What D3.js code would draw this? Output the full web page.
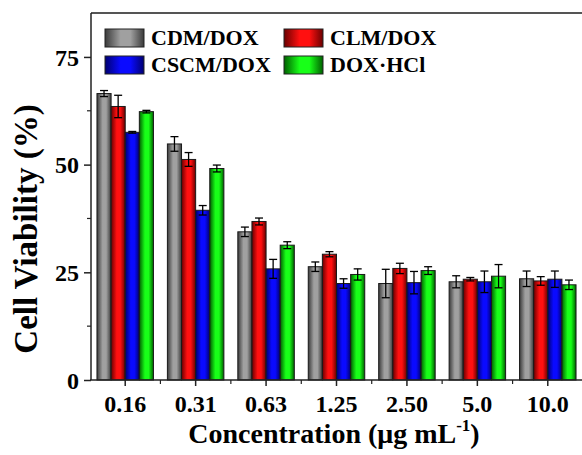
<!DOCTYPE html>
<meta charset="utf-8">
<style>
  body { margin: 0; background: #fff; }
</style>
<script src="https://d3js.org/d3.v7.min.js"></script>
<div id="chart"></div>
<script>
// concentrations (ug/mL)
const categories = ["0.16", "0.31", "0.63", "1.25", "2.50", "5.0", "10.0"];
const seriesNames = ["CDM/DOX", "CLM/DOX", "CSCM/DOX", "DOX·HCl"];

// cell viability (%) and error
const cdm = [66.5, 54.8, 34.4, 26.3, 22.4, 22.8, 23.5];
const cdmErr = [0.7, 1.7, 1.1, 1.1, 3.3, 1.4, 1.8];
const clm = [63.5, 51.2, 36.8, 29.2, 25.9, 23.4, 23.0];
const clmErr = [2.6, 1.6, 0.8, 0.6, 1.2, 0.4, 1.0];
const cscm = [57.5, 39.4, 25.8, 22.4, 22.6, 22.8, 23.4];
const cscmErr = [0.2, 1.1, 2.2, 1.1, 2.6, 2.5, 1.9];
const dox = [62.3, 49.1, 31.3, 24.5, 25.4, 24.1, 22.1];
const doxErr = [0.3, 0.8, 0.8, 1.3, 0.9, 2.7, 1.1];

const yTicks = [0, 25, 50, 75];
const yMinor = [12.5, 37.5, 62.5];

const values = [cdm, clm, cscm, dox];
const errors = [cdmErr, clmErr, cscmErr, doxErr];
const colors = [
  {dark: "#3a3a3a", light: "#a0a0a0", id: "gGray"},
  {dark: "#6a0000", light: "#ff1010", id: "gRed"},
  {dark: "#000070", light: "#0a0aff", id: "gBlue"},
  {dark: "#006000", light: "#18ff18", id: "gGreen"}
];

const FONT = "'Liberation Serif', 'Times New Roman', serif";
const W = 582, H = 455;
const plotLeft = 90, plotRight = 583, plotTop = 13, plotBottom = 380;

const svg = d3.select("#chart").append("svg")
    .attr("width", W).attr("height", H);

svg.append("rect").attr("width", W).attr("height", H).attr("fill", "#fff");

// gradients for the shaded bars
const defs = svg.append("defs");
colors.forEach(c => {
  const g = defs.append("linearGradient").attr("id", c.id)
      .attr("x1", "0%").attr("x2", "100%").attr("y1", "0%").attr("y2", "0%");
  g.append("stop").attr("offset", "0%").attr("stop-color", c.dark);
  g.append("stop").attr("offset", "40%").attr("stop-color", c.light);
  g.append("stop").attr("offset", "65%").attr("stop-color", c.light);
  g.append("stop").attr("offset", "100%").attr("stop-color", c.dark);
});

const x = d3.scaleBand().domain(categories).range([plotLeft, plotRight]).padding(0);
const inner = d3.scaleBand().domain(d3.range(4))
    .range([x.bandwidth() * 0.099, x.bandwidth() * 0.901]).padding(0);
const y = d3.scaleLinear().domain([0, 85.2]).range([plotBottom, plotTop]);

// top frame line
svg.append("line").attr("x1", plotLeft + 1).attr("x2", W).attr("y1", plotTop).attr("y2", plotTop)
    .attr("stroke", "#555").attr("stroke-width", 2);

// bars
const groups = svg.selectAll("g.grp").data(categories).enter().append("g")
    .attr("class", "grp")
    .attr("transform", d => "translate(" + x(d) + ",0)");

groups.each(function (cat, i) {
  const g = d3.select(this);
  for (let s = 0; s < 4; s++) {
    const v = values[s][i];
    const e = errors[s][i];
    const bx = inner(s);
    const bw = inner.bandwidth();
    g.append("rect")
        .attr("x", bx).attr("y", y(v))
        .attr("width", bw).attr("height", y(0) - y(v))
        .attr("fill", "url(#" + colors[s].id + ")")
        .attr("stroke", "#1a1a1a").attr("stroke-width", 1);
    const cx = bx + bw / 2;
    g.append("line").attr("x1", cx).attr("x2", cx)
        .attr("y1", y(v + e)).attr("y2", y(v - e))
        .attr("stroke", "#000").attr("stroke-width", 1.3);
    [v + e, v - e].forEach(t => {
      g.append("line").attr("x1", cx - 4).attr("x2", cx + 4)
          .attr("y1", y(t)).attr("y2", y(t))
          .attr("stroke", "#000").attr("stroke-width", 1.3);
    });
  }
});

// y axis
const yAxis = svg.append("g").attr("transform", "translate(" + (plotLeft + 1) + ",0)")
    .call(d3.axisLeft(y).tickValues(yTicks).tickSize(7).tickFormat(d3.format("d")));
yAxis.select(".domain").attr("stroke", "#222").attr("stroke-width", 1.5)
    .attr("d", "M0," + plotTop + "V" + plotBottom);
yAxis.selectAll(".tick line").attr("stroke", "#222").attr("stroke-width", 1.5);
yAxis.selectAll(".tick text").attr("x", -12).attr("dy", "0.34em")
    .style("font-family", FONT).style("font-weight", "bold").style("font-size", "24px")
    .attr("fill", "#000");
svg.append("g").selectAll("line").data(yMinor).enter().append("line")
    .attr("x1", plotLeft + 1).attr("x2", plotLeft - 3)
    .attr("y1", d => y(d)).attr("y2", d => y(d))
    .attr("stroke", "#222").attr("stroke-width", 1.2);

// x axis
const xAxis = svg.append("g").attr("transform", "translate(0," + plotBottom + ")")
    .call(d3.axisBottom(x).tickSize(6).tickPadding(7));
xAxis.select(".domain").attr("stroke", "#222").attr("stroke-width", 1.5)
    .attr("d", "M" + plotLeft + ",0H" + W);
xAxis.selectAll(".tick line").attr("stroke", "#222").attr("stroke-width", 1.5);
xAxis.selectAll(".tick text").attr("dy", "0.8em")
    .style("font-family", FONT).style("font-weight", "bold").style("font-size", "24px")
    .attr("fill", "#000");
svg.append("g").selectAll("line").data(categories.slice(1)).enter().append("line")
    .attr("x1", d => x(d)).attr("x2", d => x(d))
    .attr("y1", plotBottom).attr("y2", plotBottom + 4)
    .attr("stroke", "#222").attr("stroke-width", 1.2);

// axis titles
svg.append("text")
    .attr("transform", "rotate(-90)")
    .attr("x", -229).attr("y", 37)
    .attr("text-anchor", "middle")
    .style("font-family", FONT).style("font-weight", "bold").style("font-size", "33px")
    .text("Cell Viability (%)");

const xt = svg.append("text")
    .attr("x", 334).attr("y", 443)
    .attr("text-anchor", "middle")
    .style("font-family", FONT).style("font-weight", "bold").style("font-size", "28px");
xt.append("tspan").text("Concentration (μg mL");
xt.append("tspan").style("font-size", "17px").attr("dy", -12).text("-1");
xt.append("tspan").attr("dy", 12).text(")");

// legend
const legendPos = [
  {x: 105, y: 29}, {x: 284, y: 29},
  {x: 105, y: 56}, {x: 284, y: 56}
];
const legend = svg.append("g");
seriesNames.forEach((name, s) => {
  const p = legendPos[s];
  legend.append("rect").attr("x", p.x).attr("y", p.y)
      .attr("width", 39).attr("height", 18)
      .attr("fill", "url(#" + colors[s].id + ")")
      .attr("stroke", "#222").attr("stroke-width", 1);
  legend.append("text").attr("x", p.x + 46).attr("y", p.y + 16)
      .style("font-family", FONT).style("font-weight", "bold").style("font-size", "22px")
      .text(name);
});
</script>
